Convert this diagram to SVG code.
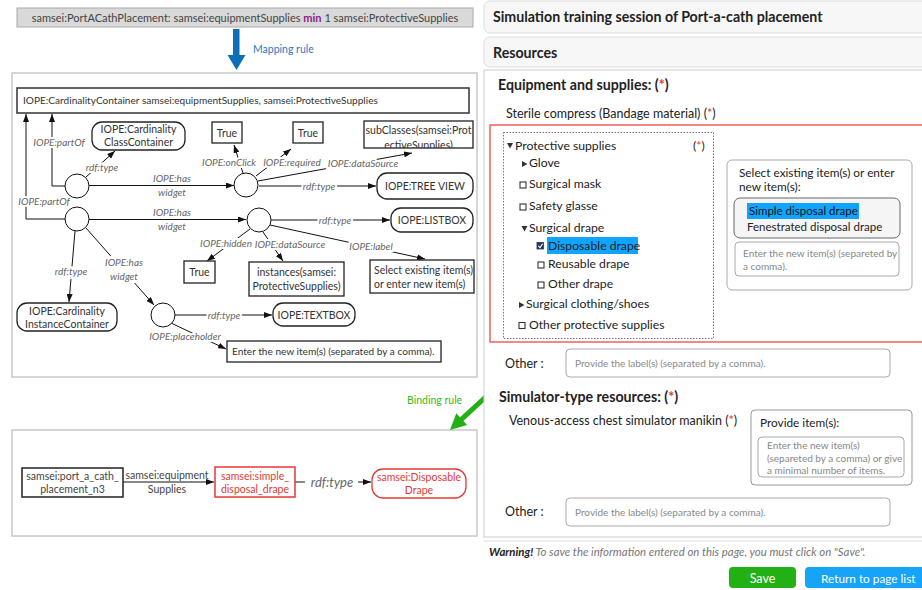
<svg xmlns="http://www.w3.org/2000/svg" width="922" height="590" viewBox="0 0 922 590">
<style>
text{font-family:Lato,'Liberation Sans',sans-serif}
.lbl{font-size:10px;font-style:italic;fill:#666;stroke:#fff;stroke-width:4;paint-order:stroke;text-anchor:middle}
.lbn{font-size:10px;font-style:italic;fill:#666;text-anchor:middle}
.nt{font-size:10.5px;fill:#333;text-anchor:middle}
.nts{font-size:10.5px;fill:#333}
.box{fill:#fff;stroke:#222;stroke-width:1.3}
.edge{stroke:#111;stroke-width:1;fill:none;marker-end:url(#ah)}
.circ{fill:#fff;stroke:#111;stroke-width:1}
.panel{fill:#fff;stroke:#c8c8c8;stroke-width:1.5}
.ui{font-size:12.5px;fill:#222}
.tr{font-size:12.2px;fill:#222}
.uib{font-size:14.2px;font-weight:bold;fill:#222}
.ph{font-size:10px;fill:#888}
.inp{fill:#fff;stroke:#aaa;stroke-width:1}
.red{fill:#e53935}
.cb{fill:#fff;stroke:#333;stroke-width:1.1}
.tri{fill:#333}
</style>
<defs>
<marker id="ah" viewBox="0 0 8 6" markerWidth="8" markerHeight="6" refX="8" refY="3" orient="auto" markerUnits="userSpaceOnUse"><path d="M0,0 L8,3 L0,6 z" fill="#111"/></marker>
<clipPath id="subclip"><rect x="364" y="121" width="109" height="27"/></clipPath>
</defs>

<!-- Top rule -->
<g id="owl-rule">
<rect x="17" y="8" width="456" height="19" fill="#d9d9d9" stroke="#aaa" stroke-width="1"/>
<text x="245" y="22" text-anchor="middle" style="font-size:11px;fill:#444">samsei:PortACathPlacement: samsei:equipmentSupplies <tspan font-weight="bold" fill="#8b1a8b">min</tspan> 1 samsei:ProtectiveSupplies</text>
</g>
<g id="mapping-arrow">
<rect x="233" y="29" width="6.5" height="27" fill="#0b70b8"/>
<polygon points="227.5,55 245.5,55 236.5,70" fill="#0b70b8"/>
<text x="253" y="53" style="font-size:10.5px;fill:#1f7ac0">Mapping rule</text>
</g>

<!-- panels -->
<rect class="panel" x="12" y="73" width="465" height="304"/>
<rect class="panel" x="12" y="430" width="465" height="106"/>

<g id="connectors">
<path class="edge" d="M65,186 H52 V114"/>
<path class="edge" d="M65,219 H26 V114"/>
<path class="edge" d="M86,177 L115,151"/>
<path class="edge" d="M89,185.5 L234,185.5"/>
<path class="edge" d="M89,219.5 L246,219.5"/>
<path class="edge" d="M243,173 L234,145"/>
<path class="edge" d="M256,176 L291,149"/>
<path class="edge" d="M258,181 L412,153"/>
<path class="edge" d="M259,186 L376,186"/>
<path class="edge" d="M271,220 L390,220"/>
<path class="edge" d="M250,229 L207,261"/>
<path class="edge" d="M263,232 L283,261"/>
<path class="edge" d="M270,225 L425,259"/>
<path class="edge" d="M75,231 L69,302"/>
<path class="edge" d="M86,228 L154,305"/>
<path class="edge" d="M175,315 L272,315"/>
<path class="edge" d="M171,323 L226,349"/>
<path class="edge" d="M123,482 L214,482"/>
<path d="M295,482 L305,482" stroke="#111" stroke-width="1"/>
<path class="edge" d="M358,482 L371,482"/>

<text class="lbl" x="59" y="146">IOPE:partOf</text>
<text class="lbl" x="44" y="205">IOPE:partOf</text>
<text class="lbl" x="102" y="171">rdf:type</text>
<text class="lbn" x="172" y="182">IOPE:has</text>
<text class="lbn" x="172" y="196">widget</text>
<text class="lbn" x="172" y="216">IOPE:has</text>
<text class="lbn" x="172" y="230">widget</text>
<text class="lbl" x="229" y="166">IOPE:onClick</text>
<text class="lbl" x="292" y="166">IOPE:required</text>
<text class="lbl" x="363" y="167">IOPE:dataSource</text>
<text class="lbl" x="319" y="189.5">rdf:type</text>
<text class="lbl" x="335" y="223.5">rdf:type</text>
<text class="lbl" x="226" y="247">IOPE:hidden</text>
<text class="lbl" x="290" y="248">IOPE:dataSource</text>
<text class="lbl" x="371" y="250">IOPE:label</text>
<text class="lbl" x="71" y="275">rdf:type</text>
<rect x="104" y="256" width="40" height="27" fill="#fff"/>
<text class="lbn" x="124" y="266">IOPE:has</text>
<text class="lbn" x="124" y="280">widget</text>
<text class="lbl" x="224" y="318.5">rdf:type</text>
<text class="lbl" x="185" y="340">IOPE:placeholder</text>
<text x="167" y="479" text-anchor="middle" style="font-size:10.5px;fill:#444">samsei:equipment</text>
<text x="167" y="493" text-anchor="middle" style="font-size:10.5px;fill:#444">Supplies</text>
<text x="332" y="487" text-anchor="middle" style="font-size:13px;font-style:italic;fill:#666">rdf:type</text>
</g>

<g id="container">
<rect x="17" y="88" width="452" height="25" fill="#fff" stroke="#333" stroke-width="1.5"/>
<text x="23" y="104" style="font-size:10.1px;fill:#333">IOPE:CardinalityContainer samsei:equipmentSupplies, samsei:ProtectiveSupplies</text>
</g>
<g id="b1"><circle class="circ" cx="77" cy="186" r="12"/></g>
<g id="b2"><circle class="circ" cx="77" cy="219" r="12"/></g>
<g id="b3"><circle class="circ" cx="246" cy="185" r="12"/></g>
<g id="b4"><circle class="circ" cx="259" cy="220" r="12"/></g>
<g id="b5"><circle class="circ" cx="163" cy="315" r="12"/></g>
<g id="class-container">
<rect class="box" x="92" y="122" width="93" height="28" rx="10"/>
<text class="nt" x="138.5" y="133">IOPE:Cardinality</text>
<text class="nt" x="138.5" y="146">ClassContainer</text>
</g>
<g id="true1"><rect class="box" x="212" y="122" width="30" height="21"/><text class="nt" x="227" y="136.5">True</text></g>
<g id="true2"><rect class="box" x="293" y="122" width="30" height="21"/><text class="nt" x="308" y="136.5">True</text></g>
<g id="subclasses">
<rect class="box" x="364" y="121" width="109" height="27"/>
<g clip-path="url(#subclip)">
<text class="nt" x="418.5" y="134">subClasses(samsei:Prot</text>
<text class="nt" x="418.5" y="149">ectiveSupplies)</text>
</g>
</g>
<g id="treeview"><rect class="box" x="377" y="173" width="96" height="26" rx="10"/><text class="nt" x="425" y="190">IOPE:TREE VIEW</text></g>
<g id="listbox"><rect class="box" x="391" y="208" width="82" height="24" rx="10"/><text class="nt" x="432" y="224">IOPE:LISTBOX</text></g>
<g id="true3"><rect class="box" x="184" y="261" width="31" height="22"/><text class="nt" x="199.5" y="276">True</text></g>
<g id="instances">
<rect class="box" x="249" y="262" width="95" height="34"/>
<text class="nt" x="296.5" y="276">instances(samsei:</text>
<text class="nt" x="296.5" y="290">ProtectiveSupplies)</text>
</g>
<g id="select-label">
<rect class="box" x="370" y="260" width="104" height="33"/>
<text class="nts" x="374" y="274">Select existing item(s)</text>
<text class="nts" x="374" y="288">or enter new item(s)</text>
</g>
<g id="instance-container">
<rect class="box" x="17" y="303" width="100" height="28" rx="10"/>
<text class="nt" x="67" y="315">IOPE:Cardinality</text>
<text class="nt" x="67" y="328">InstanceContainer</text>
</g>
<g id="textbox"><rect class="box" x="273" y="303" width="82" height="23" rx="10"/><text class="nt" x="314" y="318.5">IOPE:TEXTBOX</text></g>
<g id="placeholder">
<rect class="box" x="227" y="341" width="214" height="21"/>
<text class="nts" x="232" y="355" style="font-size:10.1px">Enter the new item(s) (separated by a comma).</text>
</g>

<!-- Binding -->
<g id="binding-arrow">
<polygon points="488.3,391.2 460,417.3 456.3,413.2 450,430 467.1,425 463.4,420.9 491.7,394.8" fill="#22b014"/>
<text x="407" y="404" style="font-size:10.5px;fill:#33bb22">Binding rule</text>
</g>
<g id="port-node">
<rect x="22" y="468" width="101" height="29" fill="#fff" stroke="#222" stroke-width="1.5"/>
<text class="nt" x="72.5" y="480" style="fill:#444">samsei:port_a_cath_</text>
<text class="nt" x="72.5" y="493" style="fill:#444">placement_n3</text>
</g>
<g id="drape-node">
<rect x="215" y="467" width="80" height="30" fill="#fff" stroke="#e53935" stroke-width="1.5"/>
<text class="nt" x="255" y="480" style="fill:#e53935">samsei:simple_</text>
<text class="nt" x="255" y="493" style="fill:#e53935">disposal_drape</text>
</g>
<g id="disposable-class">
<rect x="372" y="469" width="94" height="29" rx="11" fill="#fff" stroke="#e53935" stroke-width="1.3"/>
<text class="nt" x="419" y="481" style="fill:#e53935">samsei:Disposable</text>
<text class="nt" x="419" y="494" style="fill:#e53935">Drape</text>
</g>

<!-- Right UI -->
<g id="ui-header1">
<rect x="484" y="1" width="450" height="32" rx="6" fill="#f7f7f7" stroke="#ddd"/>
<text class="uib" x="493" y="22">Simulation training session of Port-a-cath placement</text>
</g>
<g id="ui-header2">
<rect x="484" y="37" width="450" height="30" rx="6" fill="#f7f7f7" stroke="#ddd"/>
<text class="uib" x="493" y="58">Resources</text>
</g>
<g id="ui-panel">
<rect x="484" y="70" width="450" height="467" fill="#fff" stroke="#ccc"/>
<line x1="484" y1="541" x2="922" y2="541" stroke="#ddd"/>
<text class="uib" x="498" y="90">Equipment and supplies: (<tspan class="red">*</tspan>)</text>
<text class="ui" x="506" y="118">Sterile compress (Bandage material) (<tspan class="red">*</tspan>)</text>
<rect x="490" y="125" width="440" height="217" fill="none" stroke="#f0605a" stroke-width="1.5"/>
<rect x="503.5" y="132.5" width="210" height="206" fill="none" stroke="#777" stroke-dasharray="1.5,1.5"/>
<polygon class="tri" points="507,143 513,143 510,148.5"/>
<text class="tr" x="515" y="150">Protective supplies</text>
<text class="tr" x="693" y="150">(<tspan class="red">*</tspan>)</text>
<polygon class="tri" points="522,161 527.5,164 522,167"/>
<text class="tr" x="529" y="167">Glove</text>
<rect class="cb" x="520" y="182" width="6" height="6"/>
<text class="tr" x="529" y="188">Surgical mask</text>
<rect class="cb" x="520" y="204" width="6" height="6"/>
<text class="tr" x="529" y="210">Safety glasse</text>
<polygon class="tri" points="521.5,226 527.5,226 524.5,231.5"/>
<text class="tr" x="529" y="232">Surgical drape</text>
<rect x="547" y="237" width="91" height="17" fill="#11a4ff"/>
<rect x="537" y="242.5" width="6.5" height="6.5" fill="#1f3a6a" stroke="#333" stroke-width="0.8"/>
<path d="M538.3,245.8 L540,247.6 L542.6,243.8" stroke="#fff" stroke-width="1.1" fill="none"/>
<text class="tr" x="548" y="250">Disposable drape</text>
<rect class="cb" x="538" y="262" width="6" height="6"/>
<text class="tr" x="548" y="268">Reusable drape</text>
<rect class="cb" x="538" y="282" width="6" height="6"/>
<text class="tr" x="548" y="288">Other drape</text>
<polygon class="tri" points="519,302 524.5,305 519,308"/>
<text class="tr" x="526" y="308">Surgical clothing/shoes</text>
<rect class="cb" x="519" y="322.5" width="6" height="6"/>
<text class="tr" x="529" y="329">Other protective supplies</text>

<rect x="727" y="160" width="185" height="130" rx="5" fill="#fff" stroke="#aaa"/>
<text class="ui" x="739" y="177" style="font-size:11.8px">Select existing item(s) or enter</text>
<text class="ui" x="739" y="191" style="font-size:11.8px">new item(s):</text>
<rect x="734" y="198" width="166" height="40" rx="6" fill="#f5f5f5" stroke="#666"/>
<rect x="747" y="203" width="112" height="16" fill="#11a4ff"/>
<text class="ui" x="749" y="215" style="font-size:11.5px;fill:#111">Simple disposal drape</text>
<text class="ui" x="747" y="231" style="font-size:11.5px">Fenestrated disposal drape</text>
<rect class="inp" x="735" y="242" width="164" height="34" rx="4"/>
<text class="ph" x="743" y="257">Enter the new item(s) (separeted by</text>
<text class="ph" x="743" y="270">a comma).</text>

<text class="ui" x="505" y="368">Other :</text>
<rect class="inp" x="566" y="349" width="324" height="28" rx="4"/>
<text class="ph" x="575" y="367">Provide the label(s) (separated by a comma).</text>

<text class="uib" x="499" y="402">Simulator-type resources: (<tspan class="red">*</tspan>)</text>
<text class="ui" x="509" y="425">Venous-access chest simulator manikin (<tspan class="red">*</tspan>)</text>
<rect x="751" y="410" width="161" height="75" rx="4" fill="#fff" stroke="#999"/>
<text class="ui" x="760" y="427" style="font-size:11.8px">Provide item(s):</text>
<rect class="inp" x="758" y="437" width="146" height="40" rx="4"/>
<text class="ph" x="767" y="449">Enter the new item(s)</text>
<text class="ph" x="767" y="462">(separeted by a comma) or give</text>
<text class="ph" x="767" y="474">a minimal number of items.</text>

<text class="ui" x="505" y="516">Other :</text>
<rect class="inp" x="566" y="498" width="324" height="28" rx="4"/>
<text class="ph" x="575" y="516">Provide the label(s) (separated by a comma).</text>
</g>
<g id="ui-footer">
<text x="489" y="556" style="font-size:11.4px;font-style:italic;fill:#777"><tspan font-weight="bold" fill="#222">Warning!</tspan> To save the information entered on this page, you must click on "Save".</text>
<rect x="729" y="567" width="67" height="21" rx="4" fill="#22b014"/>
<text x="762.5" y="582.5" text-anchor="middle" style="font-size:12.5px;fill:#fff">Save</text>
<rect x="805" y="567" width="125" height="21" rx="4" fill="#15a4f7"/>
<text x="821" y="582.5" style="font-size:11.8px;fill:#fff">Return to page list</text>
</g>
</svg>
